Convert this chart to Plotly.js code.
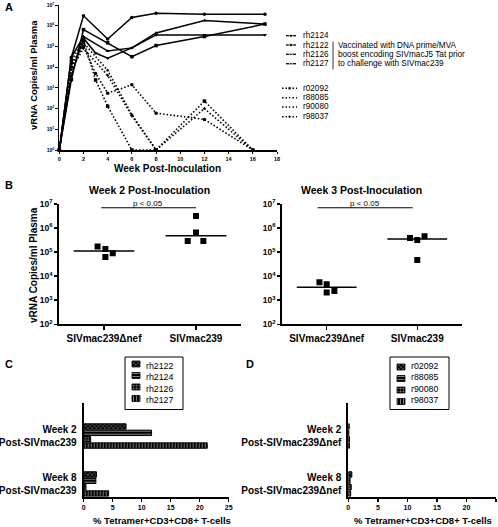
<!DOCTYPE html>
<html><head><meta charset="utf-8">
<script src="https://cdn.plot.ly/plotly-3.0.1.min.js"></script>
<style>html,body{margin:0;padding:0;background:#fff}#chart{width:498px;height:527px}</style>
</head><body><div id="chart"></div>
<script>
// ---------------- DATA ----------------
// Panel A: viral load (vRNA copies/ml) by week post-inoculation
const weeks_rh2124 = [0, 1, 2, 4, 6, 8, 12, 17];
const vl_rh2124    = [1, 3e4, 3e6, 2.3e5, 2.5e6, 4e6, 3.6e6, 3.6e6];
const weeks_rh2122 = [0, 1, 2, 4, 6, 8, 12, 17];
const vl_rh2122    = [1, 2.5e3, 6.5e5, 1.5e5, 3.2e4, 1.1e5, 3e5, 1.2e6];
const weeks_rh2126 = [0, 1, 2, 4, 6, 8, 12, 17];
const vl_rh2126    = [1, 3e4, 3e5, 6e4, 8.5e4, 4.5e5, 1.8e6, 1.2e6];
const weeks_rh2127 = [0, 1, 2, 3, 4, 6, 8, 12, 17];
const vl_rh2127    = [1, 4e3, 2.5e5, 4.8e4, 2.7e4, 8.5e4, 3.6e5, 3.6e5, 3.6e5];
const weeks_r02092 = [0, 1, 2, 3, 4, 6, 8, 12, 16];
const vl_r02092    = [1, 2e4, 2e5, 2.4e3, 1.3e2, 1, 1, 230, 1];
const weeks_r88085 = [0, 1, 2, 4, 6, 8, 12, 16];
const vl_r88085    = [1, 1e4, 1.5e5, 7e3, 50, 1, 100, 1];
const weeks_r90080 = [0, 1, 2, 4, 6, 8];
const vl_r90080    = [1, 8e3, 8e4, 4e3, 45, 1];
const weeks_r98037 = [0, 1, 2, 3, 4, 6, 8, 12, 16];
const vl_r98037    = [1, 1.5e4, 1e5, 5e3, 550, 1.4e3, 60, 30, 1];
const xTicksA = [0, 2, 4, 6, 8, 10, 12, 14, 16, 18];
const yExpA = [0, 1, 2, 3, 4, 5, 6, 7];

// Panel B
const groupsB = ['SIVmac239\u0394nef', 'SIVmac239'];
const wk2_delnef = [1.7e5, 1.35e5, 9e4, 6.2e4];
const wk2_mac239 = [3.2e6, 6.6e5, 2.9e5, 2.9e5];
const wk3_delnef = [5.6e3, 4.6e3, 2.4e3, 2.1e3];
const wk3_mac239 = [3.9e5, 3.2e5, 4.6e5, 4.7e4];
const yExpB = [2, 3, 4, 5, 6, 7];
const pText = 'p < 0.05';

// Panel C / D: % Tetramer+ CD3+CD8+ T-cells
const catsC = ['Week 2<br>Post-SIVmac239', 'Week 8<br>Post-SIVmac239'];
const catsD = ['Week 2<br>Post-SIVmac239\u0394nef', 'Week 8<br>Post-SIVmac239\u0394nef'];
const tet_rh2122 = [7.3, 2.2];
const tet_rh2124 = [11.7, 2.1];
const tet_rh2126 = [1.2, 0.4];
const tet_rh2127 = [21.3, 4.3];
const tet_r02092 = [0.15, 0.6];
const tet_r88085 = [0.1, 0.3];
const tet_r90080 = [0.2, 0.5];
const tet_r98037 = [0.2, 0.4];
const xTicksCD = [0, 5, 10, 15, 20, 25];

// ---------------- STYLE / LAYOUT HELPERS ----------------
const W = 498, H = 527;
const FONT = 'Liberation Sans, Arial, Helvetica, sans-serif';
const px = x => x / W;
const py = y => 1 - y / H;
const median = a => { const s = [...a].sort((p, q) => p - q); const m = s.length / 2; return s.length % 2 ? s[Math.floor(m)] : (s[m - 1] + s[m]) / 2; };
const supTicks = ex => ex.map(e => '10<sup>' + e + '</sup>');
const DOT = '1.5px,2px';

const traces = [];

// Panel A traces
const solidA = [
  ['rh2124', weeks_rh2124, vl_rh2124, 'circle'],
  ['rh2122', weeks_rh2122, vl_rh2122, 'square'],
  ['rh2126', weeks_rh2126, vl_rh2126, 'triangle-up'],
  ['rh2127', weeks_rh2127, vl_rh2127, 'triangle-down']
];
const dotA = [
  ['r02092', weeks_r02092, vl_r02092, 'square'],
  ['r88085', weeks_r88085, vl_r88085, 'triangle-up'],
  ['r90080', weeks_r90080, vl_r90080, 'triangle-down'],
  ['r98037', weeks_r98037, vl_r98037, 'circle']
];
solidA.forEach(s => traces.push({type: 'scatter', mode: 'lines+markers', name: s[0], x: s[1], y: s[2],
  xaxis: 'x', yaxis: 'y', line: {color: 'black', width: 1.5}, marker: {symbol: s[3], size: 3.5, color: 'black'},
  cliponaxis: false, showlegend: false, hoverinfo: 'skip'}));
dotA.forEach(s => traces.push({type: 'scatter', mode: 'lines+markers', name: s[0], x: s[1], y: s[2],
  xaxis: 'x', yaxis: 'y', line: {color: 'black', width: 1.6, dash: DOT}, marker: {symbol: s[3], size: 3.5, color: 'black'},
  cliponaxis: false, showlegend: false, hoverinfo: 'skip'}));

// Panel B traces
const jitter2 = [[-0.07, 0.015, 0.095, 0.015], [0, 0, -0.09, 0.08]];
const jitter3 = [[-0.08, 0, 0.085, 0], [-0.08, 0, 0.08, 0]];
const medHalf = 0.33;
function scatterB(vals, gi, jit, xa, ya) {
  traces.push({type: 'scatter', mode: 'markers', x: vals.map((v, i) => gi + jit[i]), y: vals,
    xaxis: xa, yaxis: ya, marker: {symbol: 'square', size: 6, color: 'black'}, showlegend: false, hoverinfo: 'skip'});
  const m = median(vals);
  traces.push({type: 'scatter', mode: 'lines', x: [gi - medHalf, gi + medHalf], y: [m, m],
    xaxis: xa, yaxis: ya, line: {color: 'black', width: 1.5}, showlegend: false, hoverinfo: 'skip'});
}
scatterB(wk2_delnef, 0, jitter2[0], 'x2', 'y2');
scatterB(wk2_mac239, 1, jitter2[1], 'x2', 'y2');
scatterB(wk3_delnef, 0, jitter3[0], 'x3', 'y3');
scatterB(wk3_mac239, 1, jitter3[1], 'x3', 'y3');
// significance bars
const sigY = 7e6;
traces.push({type: 'scatter', mode: 'lines', x: [-0.03, 1], y: [sigY, sigY], xaxis: 'x2', yaxis: 'y2',
  line: {color: 'black', width: 1.2}, showlegend: false, hoverinfo: 'skip', cliponaxis: false});
traces.push({type: 'scatter', mode: 'lines', x: [-0.1, 0.95], y: [sigY, sigY], xaxis: 'x3', yaxis: 'y3',
  line: {color: 'black', width: 1.2}, showlegend: false, hoverinfo: 'skip', cliponaxis: false});

// Panel C / D bars
const patC = ['x', '-', '.', '|'];
function barTrace(name, vals, cats, shape, xa, ya) {
  return {type: 'bar', orientation: 'h', name: name, x: vals, y: cats, xaxis: xa, yaxis: ya,
    marker: {color: 'black', line: {color: 'black', width: 1},
      pattern: {shape: shape, fgcolor: 'white', bgcolor: 'black', size: 3, solidity: 0.35, fillmode: 'overlay'}},
    showlegend: false, hoverinfo: 'skip'};
}
const seriesC = [['rh2122', tet_rh2122], ['rh2124', tet_rh2124], ['rh2126', tet_rh2126], ['rh2127', tet_rh2127]];
const seriesD = [['r02092', tet_r02092], ['r88085', tet_r88085], ['r90080', tet_r90080], ['r98037', tet_r98037]];
seriesC.forEach((s, i) => traces.push(barTrace(s[0], s[1], catsC, patC[i], 'x4', 'y4')));
seriesD.forEach((s, i) => traces.push(barTrace(s[0], s[1], catsD, patC[i], 'x5', 'y5')));

// ---------------- Decorative legends on a pixel overlay axis ----------------
const legA_y = [35.7, 45, 54.3, 63.7];
const legA2_y = [88.3, 97.7, 107, 116.7];
solidA.forEach((s, i) => traces.push({type: 'scatter', mode: 'lines+markers', x: [286, 291, 296], y: [legA_y[i], legA_y[i], legA_y[i]],
  xaxis: 'x6', yaxis: 'y6', line: {color: 'black', width: 1.3}, marker: {symbol: s[3], size: [0, 3.5, 0], color: 'black'},
  showlegend: false, hoverinfo: 'skip', cliponaxis: false}));
dotA.forEach((s, i) => traces.push({type: 'scatter', mode: 'lines+markers', x: [282, 289.5, 297], y: [legA2_y[i], legA2_y[i], legA2_y[i]],
  xaxis: 'x6', yaxis: 'y6', line: {color: 'black', width: 1.4, dash: DOT}, marker: {symbol: s[3], size: [0, 3.5, 0], color: 'black'},
  showlegend: false, hoverinfo: 'skip', cliponaxis: false}));
const legC_y = [365.5, 377, 388.5, 400];
traces.push({type: 'bar', orientation: 'h', x: [8, 8, 8, 8], base: [132, 132, 132, 132], y: legC_y, width: [6, 6, 6, 6],
  xaxis: 'x6', yaxis: 'y6', marker: {color: 'black', line: {color: 'black', width: 0.8},
    pattern: {shape: patC, fgcolor: 'white', bgcolor: 'black', size: 3, solidity: 0.35, fillmode: 'overlay'}},
  showlegend: false, hoverinfo: 'skip'});
traces.push({type: 'bar', orientation: 'h', x: [8, 8, 8, 8], base: [397, 397, 397, 397], y: legC_y, width: [6, 6, 6, 6],
  xaxis: 'x6', yaxis: 'y6', marker: {color: 'black', line: {color: 'black', width: 0.8},
    pattern: {shape: patC, fgcolor: 'white', bgcolor: 'black', size: 3, solidity: 0.35, fillmode: 'overlay'}},
  showlegend: false, hoverinfo: 'skip'});

// ---------------- AXES ----------------
const axBase = {showgrid: false, zeroline: false, showline: true, linecolor: 'black', ticks: 'outside',
  tickcolor: 'black', automargin: false, fixedrange: true};
const fb = s => ({family: FONT, size: s, color: 'black', weight: 'bold'});
const fr = s => ({family: FONT, size: s, color: 'black'});

const layout = {
  width: W, height: H, margin: {l: 0, r: 0, t: 0, b: 0},
  paper_bgcolor: 'white', plot_bgcolor: 'rgba(0,0,0,0)',
  showlegend: false, barmode: 'group', bargap: 0.47, bargroupgap: 0.15,
  font: {family: FONT, color: 'black'},
  xaxis: Object.assign({}, axBase, {domain: [px(59.3), px(277)], range: [0, 18], tickvals: xTicksA,
    linewidth: 1.5, ticklen: 2.5, tickwidth: 1, tickfont: fb(5.5), anchor: 'y'}),
  yaxis: Object.assign({}, axBase, {domain: [py(150), py(5)], type: 'log', range: [0, 7],
    tickvals: yExpA.map(e => Math.pow(10, e)), ticktext: supTicks(yExpA),
    linewidth: 1.5, ticklen: 2.5, tickwidth: 1, tickfont: fb(5), anchor: 'x'}),
  xaxis2: Object.assign({}, axBase, {domain: [px(59.3), px(240.7)], range: [-0.486, 1.486], tickvals: [0, 1], ticktext: groupsB,
    linewidth: 2, ticklen: 4, tickwidth: 1.5, tickfont: fb(10), anchor: 'y2'}),
  yaxis2: Object.assign({}, axBase, {domain: [py(324.3), py(204)], type: 'log', range: [2, 7],
    tickvals: yExpB.map(e => Math.pow(10, e)), ticktext: supTicks(yExpB),
    linewidth: 2, ticklen: 3, tickwidth: 1.5, tickfont: fb(8.5), anchor: 'x2'}),
  xaxis3: Object.assign({}, axBase, {domain: [px(282.3), px(462.3)], range: [-0.49, 1.497], tickvals: [0, 1], ticktext: groupsB,
    linewidth: 2, ticklen: 4, tickwidth: 1.5, tickfont: fb(10), anchor: 'y3'}),
  yaxis3: Object.assign({}, axBase, {domain: [py(324.3), py(204)], type: 'log', range: [2, 7],
    tickvals: yExpB.map(e => Math.pow(10, e)), ticktext: supTicks(yExpB),
    linewidth: 2, ticklen: 3, tickwidth: 1.5, tickfont: fb(8.5), anchor: 'x3'}),
  xaxis4: Object.assign({}, axBase, {domain: [px(83.7), px(228.7)], range: [0, 25], tickvals: xTicksCD,
    linewidth: 2, ticklen: 3, tickwidth: 1.5, tickfont: fb(7), anchor: 'y4'}),
  yaxis4: Object.assign({}, axBase, {domain: [py(496.7), py(402.7)], type: 'category', categoryarray: catsC,
    range: [1.265, -0.695], ticks: '', linewidth: 2, tickfont: fb(10), ticklabelstandoff: 3, anchor: 'x4'}),
  xaxis5: Object.assign({}, axBase, {domain: [px(348.3), px(496)], range: [0, 25], tickvals: xTicksCD,
    linewidth: 2, ticklen: 3, tickwidth: 1.5, tickfont: fb(7), anchor: 'y5'}),
  yaxis5: Object.assign({}, axBase, {domain: [py(496.7), py(402.7)], type: 'category', categoryarray: catsD,
    range: [1.265, -0.695], ticks: '', linewidth: 2, tickfont: fb(10), ticklabelstandoff: 3, anchor: 'x5'}),
  xaxis6: {domain: [0, 1], range: [0, W], visible: false, fixedrange: true, anchor: 'y6'},
  yaxis6: {domain: [0, 1], range: [H, 0], visible: false, fixedrange: true, anchor: 'x6'},
  shapes: [
    {type: 'line', xref: 'paper', yref: 'paper', x0: px(333), x1: px(333), y0: py(41.5), y1: py(69.5), line: {color: '#333', width: 1}},
    {type: 'rect', xref: 'paper', yref: 'paper', x0: px(125), x1: px(183), y0: py(357), y1: py(409.5), line: {color: 'black', width: 1}},
    {type: 'rect', xref: 'paper', yref: 'paper', x0: px(390), x1: px(449), y0: py(357), y1: py(409.5), line: {color: 'black', width: 1}}
  ],
  annotations: []
};

const ann = (text, x, y, font, xanchor, extra) => layout.annotations.push(Object.assign({
  text: text, x: px(x), y: py(y), xref: 'paper', yref: 'paper', showarrow: false,
  xanchor: xanchor || 'center', yanchor: 'middle', font: font}, extra || {}));

// Panel letters
ann('A', 3, 7, fb(11), 'left');
ann('B', 3, 185, fb(11), 'left');
ann('C', 3, 364, fb(11), 'left');
ann('D', 244, 364, fb(11), 'left');
// Panel A titles
ann('Week Post-Inoculation', 167, 168.3, fb(10));
ann('vRNA Copies/ml Plasma', 33, 75, fb(9.5), 'center', {textangle: -90});
// Panel A legend text
solidA.forEach((s, i) => ann(s[0], 301, legA_y[i], fr(8.2), 'left'));
dotA.forEach((s, i) => ann(s[0], 301, legA2_y[i], fr(8.2), 'left'));
ann('Vaccinated with DNA prime/MVA', 336, 45.3, fr(8.2), 'left');
ann('boost encoding SIVmacJ5 Tat prior', 336, 54.6, fr(8.2), 'left');
ann('to challenge with SIVmac239', 336, 63.9, fr(8.2), 'left');
// Panel B
ann('vRNA Copies/ml Plasma', 33, 265, fb(10), 'center', {textangle: -90});
ann('Week 2 Post-Inoculation', 149.5, 190, fb(10.5));
ann('Week 3 Post-Inoculation', 361.7, 189.5, fb(10.5));
ann(pText, 148.3, 203, fr(8));
ann(pText, 365, 203, fr(8));
// Panel C/D legend text and x titles
seriesC.forEach((s, i) => ann(s[0], 144, legC_y[i], fr(8.8), 'left'));
seriesD.forEach((s, i) => ann(s[0], 409, legC_y[i], fr(8.8), 'left'));
ann('% Tetramer+CD3+CD8+ T-cells', 162, 520, fb(9.5));
ann('% Tetramer+CD3+CD8+ T-cells', 423, 520, fb(9.5));

Plotly.newPlot('chart', traces, layout, {staticPlot: true, displayModeBar: false});
</script></body></html>
